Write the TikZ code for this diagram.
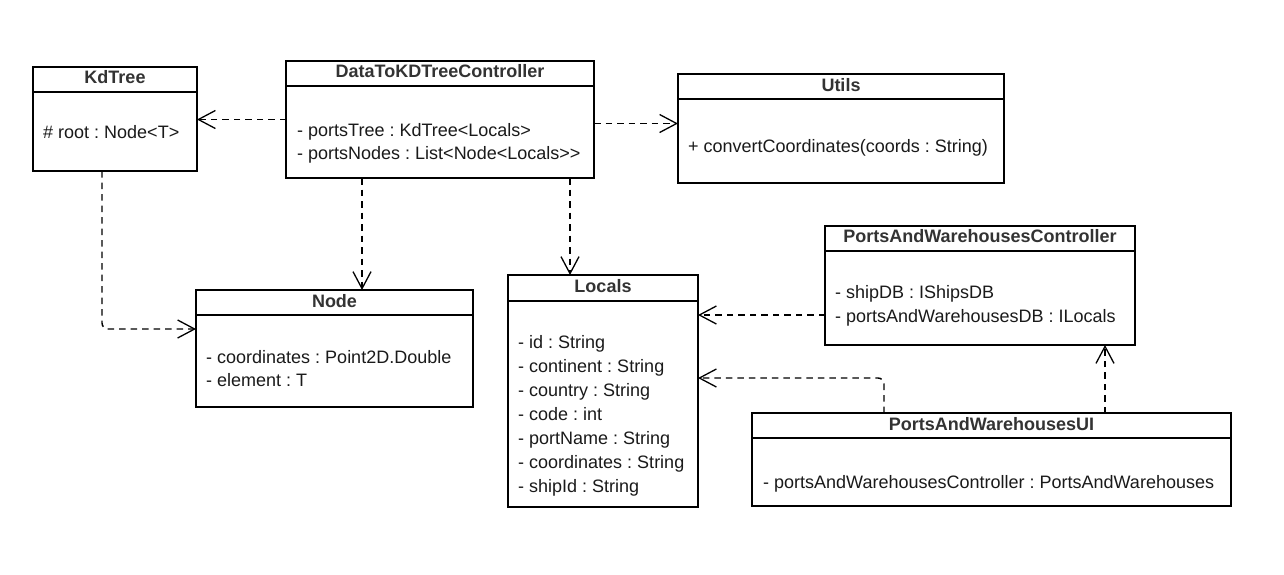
\documentclass[tikz,border=0pt]{standalone}
\usepackage{fontspec}
\setmainfont{Liberation Sans}
\usetikzlibrary{arrows.meta}
\newcommand\diafs{\fontsize{18}{24}\selectfont}
\definecolor{titlecol}{HTML}{333333}
\definecolor{txtcol}{HTML}{1A1A1A}
\frenchspacing
\begin{document}
\begin{tikzpicture}[x=1pt,y=-1pt,
  box/.style={draw, line width=1.5pt, rectangle, inner sep=0pt, outer sep=0pt, anchor=north west},
  ttl/.style={font=\bfseries\diafs, text=titlecol, anchor=base, inner sep=0pt},
  attr/.style={font=\diafs, text=txtcol, anchor=base west, inner sep=0pt},
  divider/.style={line width=1.5pt},
  dep/.style={line width=1.4pt, dash pattern=on 6.5pt off 5pt, rounded corners=6pt,
    -{Straight Barb[length=17pt,width=18pt,line width=1.3pt]}}
]
\useasboundingbox[fill=white] (0,0) rectangle (1284,574);

% boxes
\node[box, minimum width=164pt, minimum height=104pt] (kd) at (33,67) {};
\node[box, minimum width=308pt, minimum height=117pt] (dt) at (286,61) {};
\node[box, minimum width=326pt, minimum height=109pt] (ut) at (678,74) {};
\node[box, minimum width=277pt, minimum height=117pt] (nd) at (196,290) {};
\node[box, minimum width=190pt, minimum height=232pt] (lc) at (508,275) {};
\node[box, minimum width=310pt, minimum height=119pt] (pc) at (825,226) {};
\node[box, minimum width=479pt, minimum height=93pt] (ui) at (752,413) {};

% header dividers
\foreach \b in {kd,dt,ut,nd,pc,ui}
  \draw[divider] ([yshift=-25pt]\b.north west) -- ([yshift=-25pt]\b.north east);
\draw[divider] ([yshift=-26pt]lc.north west) -- ([yshift=-26pt]lc.north east);

% titles
\node[ttl] (kdT) at ([yshift=-16.5pt]kd.north) {KdTree};
\node[ttl] (dtT) at ([yshift=-16.5pt]dt.north) {DataToKDTreeController};
\node[ttl] (utT) at ([yshift=-17.5pt]ut.north) {Utils};
\node[ttl] (ndT) at ([yshift=-17.5pt]nd.north) {Node};
\node[ttl] (lcT) at ([yshift=-17.5pt]lc.north) {Locals};
\node[ttl] (pcT) at ([yshift=-16.5pt]pc.north) {PortsAndWarehousesController};
\node[ttl] (uiT) at ([yshift=-17.5pt]ui.north) {PortsAndWarehousesUI};

% attributes
\node[attr] (kdA1) at ([xshift=10pt,yshift=-71pt]kd.north west) {\# root : Node<T>};
\node[attr] (dtA1) at ([xshift=11pt,yshift=-75pt]dt.north west) {- portsTree : KdTree<Locals>};
\node[attr] (dtA2) at ([xshift=11pt,yshift=-98pt]dt.north west) {- portsNodes : List<Node<Locals>{}>};
\node[attr] (utA1) at ([xshift=10pt,yshift=-78pt]ut.north west) {+ convertCoordinates(coords : String)};
\node[attr] (ndA1) at ([xshift=10pt,yshift=-73pt]nd.north west) {- coordinates : Point2D.Double};
\node[attr] (ndA2) at ([xshift=10pt,yshift=-96pt]nd.north west) {- element : T};
\foreach \t [count=\i from 0] in {id : String, continent : String, country : String, code : int, portName : String, coordinates : String, shipId : String}
  \node[attr] (lcA\i) at ([xshift=10pt,yshift=-73pt-24pt*\i]lc.north west) {- \t};
\node[attr] (pcA1) at ([xshift=10pt,yshift=-72pt]pc.north west) {- shipDB : IShipsDB};
\node[attr] (pcA2) at ([xshift=10pt,yshift=-96pt]pc.north west) {- portsAndWarehousesDB : ILocals};
\node[attr] (uiA1) at ([xshift=11pt,yshift=-75pt]ui.north west) {- portsAndWarehousesController : PortsAndWarehouses};

% connectors
\draw[dep] (dt.west) -- (dt.west -| kd.east);
\draw[dep] ([yshift=-4pt]dt.east) -- ([yshift=-4pt]dt.east -| ut.west);
\draw[dep] ([xshift=76pt]dt.south west) -- ([xshift=76pt]dt.south west |- nd.north);
\draw[dep] ([xshift=284pt]dt.south west) -- ([xshift=284pt]dt.south west |- lc.north);
\draw[dep] ([xshift=69pt]kd.south west) |- ([yshift=-39pt]nd.north west);
\draw[dep] ([yshift=-89pt]pc.north west) -- ([yshift=-89pt]pc.north west -| lc.east);
\draw[dep] ([xshift=132pt]ui.north west) |- ([yshift=-103pt]lc.north east);
\draw[dep] ([xshift=353pt]ui.north west) -- ([xshift=353pt]ui.north west |- pc.south);
\end{tikzpicture}
\end{document}
